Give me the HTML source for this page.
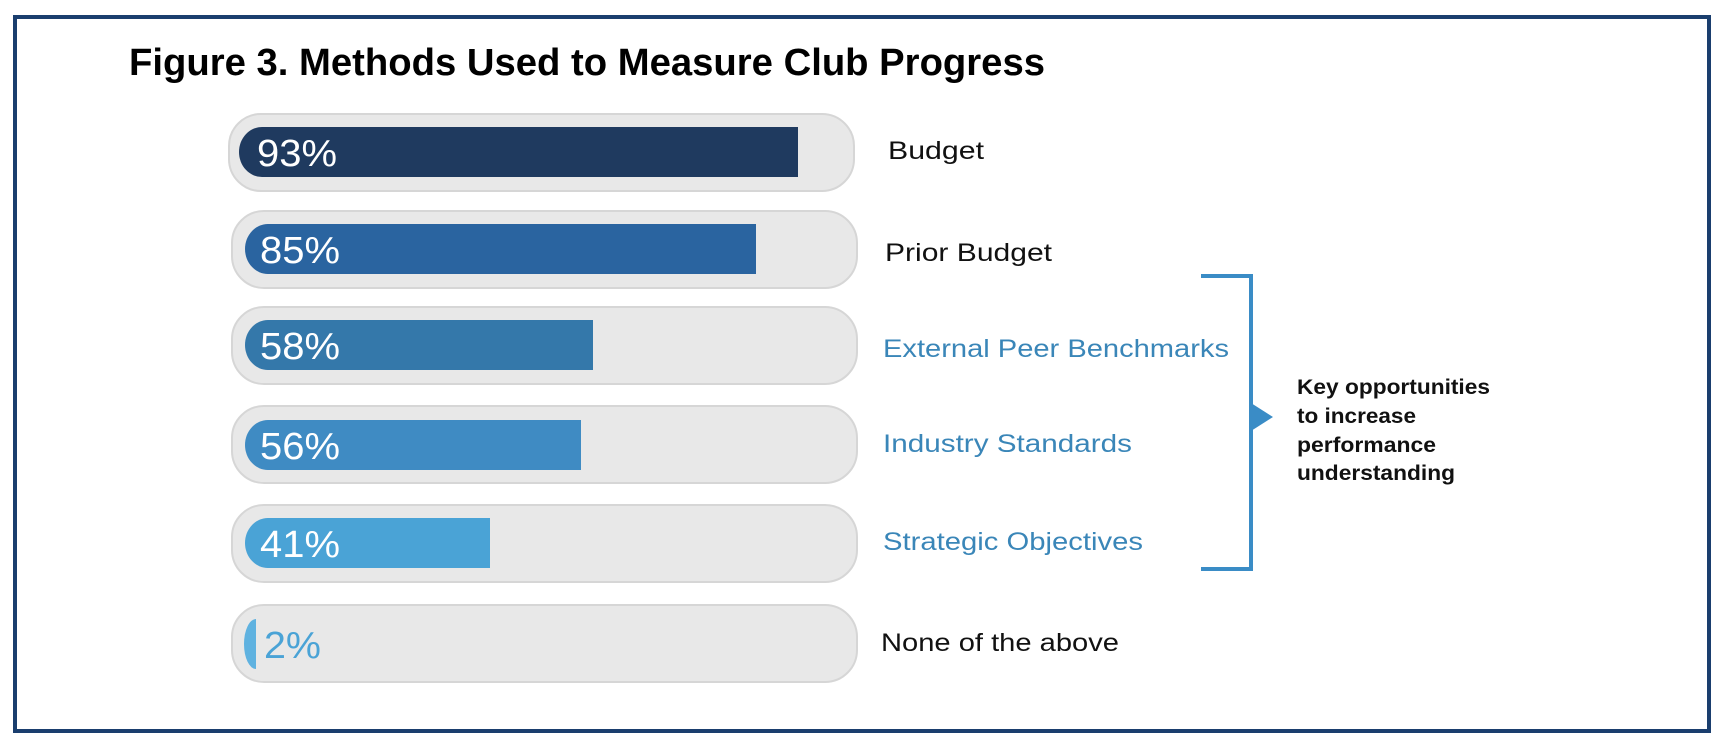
<!DOCTYPE html>
<html><head><meta charset="utf-8"><style>html,body{margin:0;padding:0;background:#fff}svg{display:block}</style></head>
<body>
<svg width="1728" height="748" viewBox="0 0 1728 748" xmlns="http://www.w3.org/2000/svg" font-family="Liberation Sans, sans-serif">
<rect x="15" y="17" width="1694" height="714" fill="#fff" stroke="#1a3e6e" stroke-width="4"/>
<text x="129" y="75" font-size="38" font-weight="bold" fill="#000" textLength="916" lengthAdjust="spacingAndGlyphs">Figure 3. Methods Used to Measure Club Progress</text>
<g fill="#e8e8e8" stroke="#d6d6d6" stroke-width="2">
<rect x="229" y="114" width="625" height="77" rx="32"/>
<rect x="232" y="211" width="625" height="77" rx="32"/>
<rect x="232" y="307" width="625" height="77" rx="32"/>
<rect x="232" y="406" width="625" height="77" rx="32"/>
<rect x="232" y="505" width="625" height="77" rx="32"/>
<rect x="232" y="605" width="625" height="77" rx="32"/>
</g>
<path d="M262 127 H798 V177 H262 A23 25 0 0 1 262 127Z" fill="#1f3a5f"/>
<path d="M268 224 H756 V274 H268 A23 25 0 0 1 268 224Z" fill="#2a64a0"/>
<path d="M268 320 H593 V370 H268 A23 25 0 0 1 268 320Z" fill="#3478aa"/>
<path d="M268 420 H581 V470 H268 A23 25 0 0 1 268 420Z" fill="#3f8bc3"/>
<path d="M268 518 H490 V568 H268 A23 25 0 0 1 268 518Z" fill="#4aa3d6"/>
<path d="M256 619 V669 A12 25 0 0 1 256 619Z" fill="#5fb2e0"/>
<g font-size="38" fill="#fff">
<text x="257" y="166" textLength="80" lengthAdjust="spacingAndGlyphs">93%</text>
<text x="260" y="263" textLength="80" lengthAdjust="spacingAndGlyphs">85%</text>
<text x="260" y="359" textLength="80" lengthAdjust="spacingAndGlyphs">58%</text>
<text x="260" y="459" textLength="80" lengthAdjust="spacingAndGlyphs">56%</text>
<text x="260" y="557" textLength="80" lengthAdjust="spacingAndGlyphs">41%</text>
<text x="264" y="658" textLength="57" lengthAdjust="spacingAndGlyphs" fill="#4aa3d6">2%</text>
</g>
<g font-size="25">
<text x="888" y="159" fill="#111" textLength="96" lengthAdjust="spacingAndGlyphs">Budget</text>
<text x="885" y="261" fill="#111" textLength="167" lengthAdjust="spacingAndGlyphs">Prior Budget</text>
<text x="883" y="357" fill="#3a86b8" textLength="346" lengthAdjust="spacingAndGlyphs">External Peer Benchmarks</text>
<text x="883" y="452" fill="#3a86b8" textLength="249" lengthAdjust="spacingAndGlyphs">Industry Standards</text>
<text x="883" y="550" fill="#3a86b8" textLength="260" lengthAdjust="spacingAndGlyphs">Strategic Objectives</text>
<text x="881" y="651" fill="#111" textLength="238" lengthAdjust="spacingAndGlyphs">None of the above</text>
</g>
<path d="M1201 276 H1251 V569 H1201" fill="none" stroke="#3a8cc6" stroke-width="4"/>
<path d="M1251 403 L1273 417 L1251 431Z" fill="#3a8cc6"/>
<g font-size="21" font-weight="bold" fill="#111">
<text x="1297" y="394" textLength="193" lengthAdjust="spacingAndGlyphs">Key opportunities</text>
<text x="1297" y="423" textLength="119" lengthAdjust="spacingAndGlyphs">to increase</text>
<text x="1297" y="452" textLength="139" lengthAdjust="spacingAndGlyphs">performance</text>
<text x="1297" y="480" textLength="158" lengthAdjust="spacingAndGlyphs">understanding</text>
</g>
</svg>
</body></html>
